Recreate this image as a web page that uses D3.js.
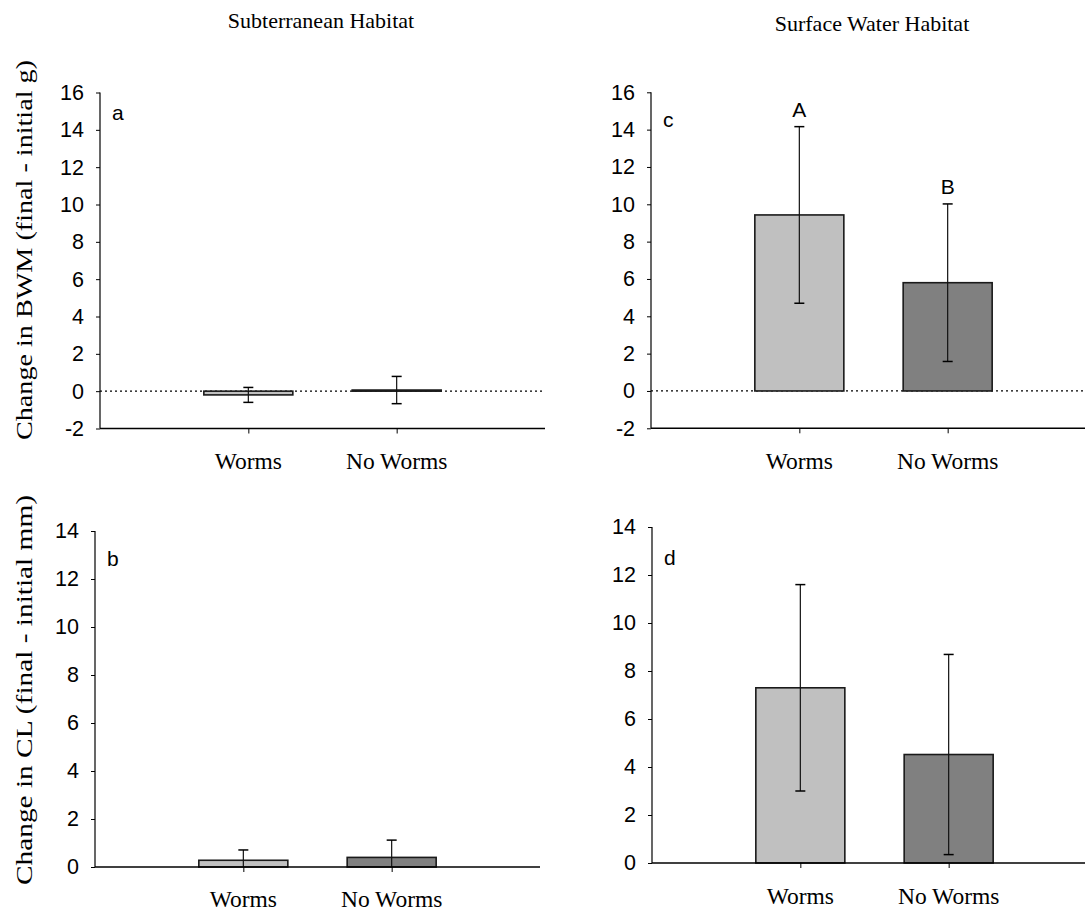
<!DOCTYPE html>
<html><head><meta charset="utf-8">
<script src="https://cdn.jsdelivr.net/npm/d3@7"></script>
<style>
body{margin:0;background:#fff;}
svg{display:block;}
</style></head>
<body>
<svg id="chart" width="1085" height="915"></svg>
<script>
const categories = ["Worms", "No Worms"];
const barColors = ["#c0c0c0", "#808080"];
// panel a: Subterranean, change in BWM (g)
const bwmSubMeans = [-0.2, 0.06];
const bwmSubErr = [0.4, 0.73];
// panel c: Surface water, change in BWM (g)
const bwmSurfMeans = [9.43, 5.8];
const bwmSurfErr = [4.73, 4.22];
const bwmSurfLetters = ["A", "B"];
// panel b: Subterranean, change in CL (mm)
const clSubMeans = [0.28, 0.4];
const clSubErr = [0.43, 0.72];
// panel d: Surface water, change in CL (mm)
const clSurfMeans = [7.3, 4.52];
const clSurfErr = [4.3, 4.17];
const bwmTicks = [-2, 0, 2, 4, 6, 8, 10, 12, 14, 16];
const clTicks = [0, 2, 4, 6, 8, 10, 12, 14];
const panelLetters = ["a", "b", "c", "d"];
const columnTitles = ["Subterranean Habitat", "Surface Water Habitat"];
const yTitles = ["Change in BWM (final - initial g)", "Change in CL (final - initial mm)"];

const svg = d3.select("#chart");
const sans = "'Liberation Sans', Arial, sans-serif";
const serif = "'Liberation Serif', 'Times New Roman', serif";

const panels = [
  {letter: panelLetters[0], means: bwmSubMeans, err: bwmSubErr, ticks: bwmTicks, domain: [-2, 16],
   x0: 100, x1: 545, yTop: 92.5, yBot: 428.5, zeroLine: true, letters: null, ly: 120, labY: 469},
  {letter: panelLetters[1], means: clSubMeans, err: clSubErr, ticks: clTicks, domain: [0, 14],
   x0: 95, x1: 540, yTop: 531, yBot: 867, zeroLine: false, letters: null, ly: 566, labY: 907},
  {letter: panelLetters[2], means: bwmSurfMeans, err: bwmSurfErr, ticks: bwmTicks, domain: [-2, 16],
   x0: 651, x1: 1096, yTop: 92.3, yBot: 428.3, zeroLine: true, letters: bwmSurfLetters, ly: 127, labY: 469},
  {letter: panelLetters[3], means: clSurfMeans, err: clSurfErr, ticks: clTicks, domain: [0, 14],
   x0: 652, x1: 1097, yTop: 527, yBot: 863, zeroLine: false, letters: null, ly: 565, labY: 904}
];

panels.forEach(p => {
  const g = svg.append("g");
  const x = d3.scalePoint().domain(categories).range([p.x0, p.x1]).padding(1);
  const y = d3.scaleLinear().domain(p.domain).range([p.yBot, p.yTop]);
  const bw = x.step() * 0.6;

  if (p.zeroLine) {
    g.append("line").attr("x1", p.x0).attr("x2", p.x1).attr("y1", y(0)).attr("y2", y(0))
      .attr("stroke", "#000").attr("stroke-width", 1.2).attr("stroke-dasharray", "2,3");
  }

  categories.forEach((c, i) => {
    const v = p.means[i];
    const top = Math.min(y(v), y(0)), h = Math.max(Math.abs(y(v) - y(0)), 1);
    g.append("rect").attr("x", x(c) - bw / 2).attr("y", top).attr("width", bw).attr("height", h)
      .attr("fill", barColors[i]).attr("stroke", "#1a1a1a").attr("stroke-width", 1.6);
  });

  categories.forEach((c, i) => {
    const hi = p.means[i] + p.err[i];
    const lo = p.means[i] - p.err[i];
    const loC = Math.max(lo, p.domain[0]);
    const cx = x(c);
    g.append("line").attr("x1", cx).attr("x2", cx).attr("y1", y(hi)).attr("y2", y(loC))
      .attr("stroke", "#111").attr("stroke-width", 1.2);
    g.append("line").attr("x1", cx - 5).attr("x2", cx + 5).attr("y1", y(hi)).attr("y2", y(hi))
      .attr("stroke", "#000").attr("stroke-width", 1.5);
    if (lo >= p.domain[0]) {
      g.append("line").attr("x1", cx - 5).attr("x2", cx + 5).attr("y1", y(lo)).attr("y2", y(lo))
        .attr("stroke", "#000").attr("stroke-width", 1.5);
    }
    if (p.letters) {
      g.append("text").attr("x", cx).attr("y", y(hi) - 10).attr("text-anchor", "middle")
        .attr("font-family", sans).attr("font-size", 21).text(p.letters[i]);
    }
  });

  const ya = g.append("g").attr("transform", `translate(${p.x0},0)`)
    .call(d3.axisLeft(y).tickValues(p.ticks).tickSize(4).tickPadding(12).tickFormat(d3.format("d")));
  ya.select(".domain").attr("d", `M0,${p.yTop}V${p.yBot}`).attr("stroke", "#000").attr("stroke-width", 1.2);
  ya.selectAll(".tick line").attr("stroke", "#000");
  ya.selectAll(".tick text").attr("font-family", sans).attr("font-size", 21.5).attr("fill", "#000")
    .text(d => d < 0 ? "-" + Math.abs(d) : d);

  const xa = g.append("g").attr("transform", `translate(0,${p.yBot})`)
    .call(d3.axisBottom(x).tickSize(5).tickFormat(""));
  xa.select(".domain").attr("d", `M${p.x0},0H${p.x1}`).attr("stroke", "#000").attr("stroke-width", 1.5);
  xa.selectAll(".tick line").attr("stroke", "#000");
  categories.forEach(c => {
    g.append("text").attr("x", x(c)).attr("y", p.labY).attr("text-anchor", "middle")
      .attr("font-family", serif).attr("font-size", 23.5).text(c);
  });

  g.append("text").attr("x", p.x0 + 12).attr("y", p.ly).attr("font-family", sans)
    .attr("font-size", 21).text(p.letter);
});

svg.append("text").attr("x", 321).attr("y", 28).attr("text-anchor", "middle")
  .attr("font-family", serif).attr("font-size", 22).text(columnTitles[0]);
svg.append("text").attr("x", 872).attr("y", 31).attr("text-anchor", "middle")
  .attr("font-family", serif).attr("font-size", 22).text(columnTitles[1]);

svg.append("text").attr("transform", "translate(32,250) rotate(-90)").attr("text-anchor", "middle")
  .attr("font-family", serif).attr("font-size", 23)
  .attr("textLength", 380).attr("lengthAdjust", "spacingAndGlyphs").text(yTitles[0]);
svg.append("text").attr("transform", "translate(32,690) rotate(-90)").attr("text-anchor", "middle")
  .attr("font-family", serif).attr("font-size", 23)
  .attr("textLength", 390).attr("lengthAdjust", "spacingAndGlyphs").text(yTitles[1]);
</script>
</body></html>
